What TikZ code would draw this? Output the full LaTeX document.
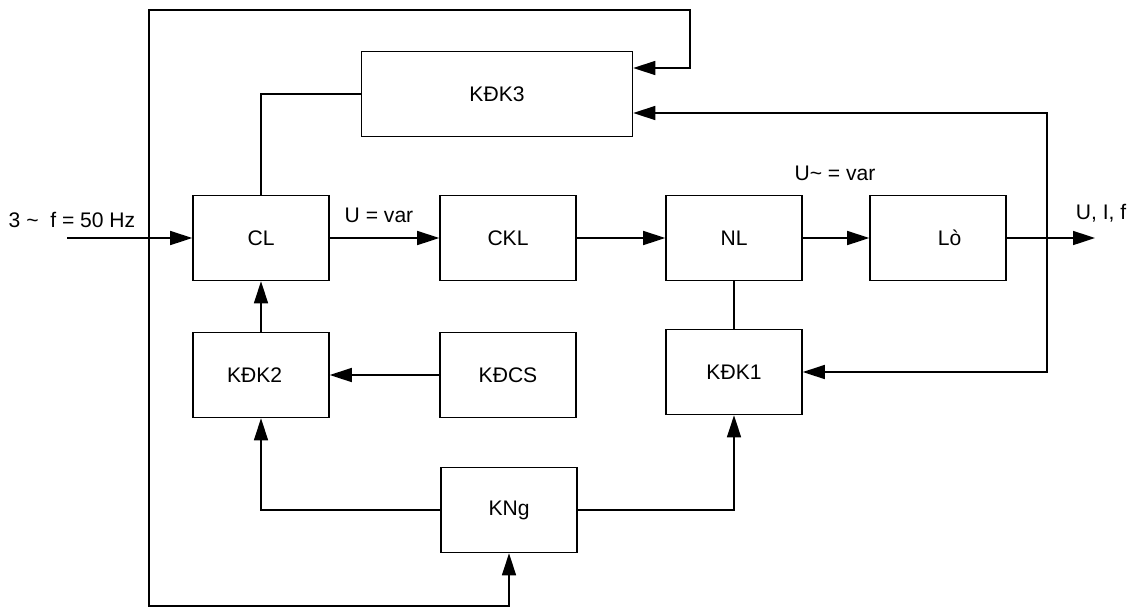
\documentclass[tikz,border=0pt]{standalone}
\usepackage{fontspec}
\setmainfont{Liberation Sans}
\usetikzlibrary{arrows.meta,calc}

\begin{document}
\begin{tikzpicture}[x=0.02cm, y=-0.02cm, line width=0.9pt,
    font=\fontsize{12}{14}\selectfont,
    block/.style={draw, minimum width=2.72cm, minimum height=1.7cm},
    arr/.style={-{Triangle[length=4.4mm,width=2.8mm]}},
    arrs/.style={{Triangle[length=4.4mm,width=2.8mm]}-{Triangle[length=4.4mm,width=2.8mm]}}]
  \useasboundingbox (0,0) rectangle (1131,609);

  % blocks
  \node[block, minimum width=5.42cm] (kdk3) at (497,94) {KĐK3};
  \node[block] (cl) at (261,238) {CL};
  \node[block] (ckl) at (508,238) {CKL};
  \node[block] (nl) at (734,238) {NL};
  \node[block] (lo) at (938,238) {\hspace{1.1em}Lò};
  \node[block] (kdk2) at (261,375) {\hspace{-0.6em}KĐK2};
  \node[block] (kdcs) at (508,375) {KĐCS};
  \node[block] (kdk1) at (734,372) {KĐK1};
  \node[block] (kng) at (509,510) {KNg};

  % labels
  \node[inner sep=0] (fin) at (72,220) {3 \textasciitilde\ \ f = 50 Hz};
  \node[inner sep=0] (udc) at (379,215) {U = var};
  \node[inner sep=0] (uac) at (835,173) {U\textasciitilde\ = var};
  \node[inner sep=0] (uif) at (1101,213) {U, I, f};

  \coordinate (in) at (67,238);
  \coordinate (out) at (1095,238);
  \coordinate (fb) at (1047,238);

  % main chain
  \draw[arr] (in) -- (cl);
  \draw[arr] (cl) -- (ckl);
  \draw[arr] (ckl) -- (nl);
  \draw[arr] (nl) -- (lo);
  \draw[arr] (lo) -- (out);

  % control
  \draw (cl.north) |- (kdk3.west);
  \draw[arr] (kdk2) -- (cl);
  \draw[arr] (kdcs) -- (kdk2);
  \draw (nl) -- (kdk1);
  \draw[arr] (kng.west) -| (kdk2.south);
  \draw[arr] (kng.east) -| (kdk1.south);

  % feedback
  \draw[arr] (fb) |- ($(kdk3.east)+(0,19)$);
  \draw[arr] (fb) |- (kdk1.east);
  \draw[arrs] ($(kdk3.east)+(0,-26)$) -| (690,10) -| (149,606) -| (kng.south);
\end{tikzpicture}
\end{document}
